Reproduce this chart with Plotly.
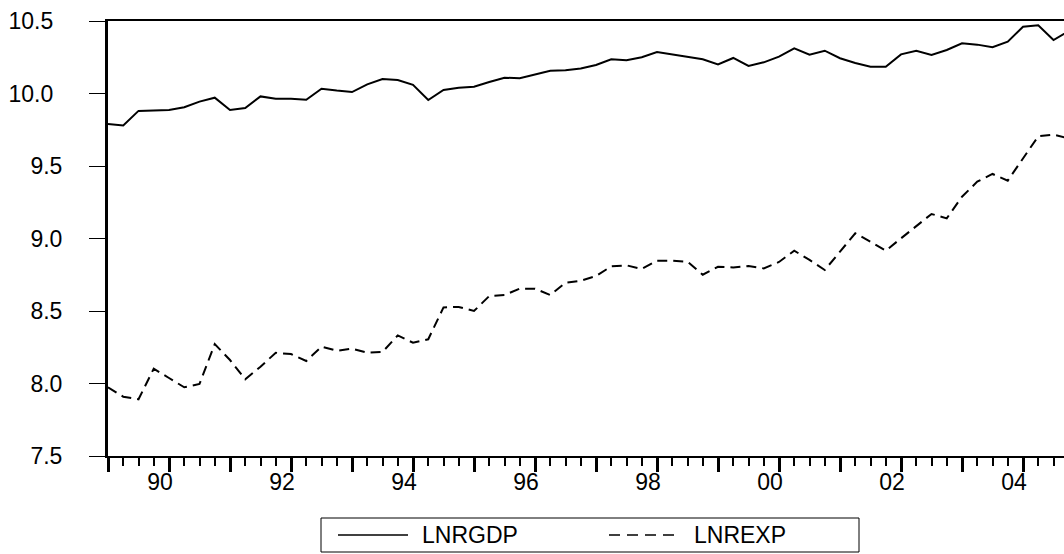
import pandas as pd
import plotly.graph_objects as go

# Quarterly sample, 1989Q1 - 2004Q4
quarters = pd.period_range("1989Q1", "2004Q4", freq="Q")

lnrgdp = [
    9.790, 9.780, 9.880, 9.886, 9.887, 9.905, 9.944, 9.971,
    9.886, 9.900, 9.980, 9.964, 9.964, 9.957, 10.033, 10.020,
    10.010, 10.063, 10.100, 10.093, 10.060, 9.955, 10.024, 10.040,
    10.047, 10.079, 10.109, 10.105, 10.132, 10.157, 10.160, 10.173,
    10.197, 10.236, 10.229, 10.250, 10.286, 10.270, 10.254, 10.236,
    10.200, 10.245, 10.190, 10.215, 10.254, 10.312, 10.268, 10.295,
    10.243, 10.210, 10.185, 10.185, 10.270, 10.295, 10.266, 10.300,
    10.346, 10.337, 10.319, 10.357, 10.460, 10.470, 10.369, 10.430,
]

lnrexp = [
    7.974, 7.909, 7.891, 8.102, 8.038, 7.974, 7.997, 8.272,
    8.162, 8.029, 8.116, 8.212, 8.203, 8.155, 8.254, 8.226,
    8.240, 8.212, 8.217, 8.332, 8.281, 8.305, 8.525, 8.528,
    8.500, 8.603, 8.610, 8.654, 8.654, 8.610, 8.695, 8.709,
    8.741, 8.808, 8.815, 8.790, 8.847, 8.847, 8.840, 8.750,
    8.805, 8.800, 8.810, 8.794, 8.838, 8.916, 8.852, 8.783,
    8.909, 9.036, 8.978, 8.916, 9.001, 9.086, 9.169, 9.139,
    9.288, 9.392, 9.445, 9.399, 9.555, 9.705, 9.716, 9.690,
]

series_names = ["LNRGDP", "LNREXP"]
y_ticks = [7.5, 8.0, 8.5, 9.0, 9.5, 10.0, 10.5]
year_ticks = list(range(1989, 2005))
year_labels = ["" if (y % 2) else f"{y % 100:02d}" for y in year_ticks]

# decimal year position of each quarter
x = [q.year + (q.quarter - 1) / 4 for q in quarters]

FONT = "Liberation Sans, Arial, sans-serif"
FS = 23
DASH = "10px,6px"

W, H = 1064, 554
ml, mr, mt, mb = 108, 0, 21, 98
plot_w, plot_h = W - ml - mr, H - mt - mb
px_per_year = 61.0


def px_x(p):
    """page pixel column -> paper x"""
    return (p - ml) / plot_w


def px_y(p):
    """page pixel row -> paper y"""
    return (H - mb - p) / plot_h


fig = go.Figure()
fig.add_trace(go.Scatter(x=x, y=lnrgdp, mode="lines", name=series_names[0],
                         line=dict(color="black", width=2), showlegend=False))
fig.add_trace(go.Scatter(x=x, y=lnrexp, mode="lines", name=series_names[1],
                         line=dict(color="black", width=2, dash=DASH),
                         showlegend=False))

# boxed key below the axis
key_top, key_bot = 518, 552
key_mid = (key_top + key_bot) / 2
shapes = [
    dict(type="rect", xref="paper", yref="paper",
         x0=px_x(321), x1=px_x(859), y0=px_y(key_bot), y1=px_y(key_top),
         line=dict(color="black", width=1), fillcolor="white"),
    dict(type="line", xref="paper", yref="paper",
         x0=px_x(338), x1=px_x(408), y0=px_y(key_mid), y1=px_y(key_mid),
         line=dict(color="black", width=1.5)),
    dict(type="line", xref="paper", yref="paper",
         x0=px_x(609), x1=px_x(674), y0=px_y(key_mid), y1=px_y(key_mid),
         line=dict(color="black", width=1.5, dash="11px,7px")),
]
annotations = [
    dict(text=series_names[0], xref="paper", yref="paper",
         x=px_x(420), y=px_y(key_mid), xanchor="left", yanchor="middle",
         showarrow=False, font=dict(family=FONT, size=FS, color="black")),
    dict(text=series_names[1], xref="paper", yref="paper",
         x=px_x(692), y=px_y(key_mid), xanchor="left", yanchor="middle",
         showarrow=False, font=dict(family=FONT, size=FS, color="black")),
]

fig.update_layout(
    width=W, height=H,
    margin=dict(l=ml, r=mr, t=mt, b=mb, pad=0),
    paper_bgcolor="white", plot_bgcolor="white",
    font=dict(family=FONT, size=FS, color="black"),
    showlegend=False,
    shapes=shapes,
    annotations=annotations,
)

fig.update_xaxes(
    range=[1989, 1989 + plot_w / px_per_year],
    tickmode="array", tickvals=year_ticks, ticktext=year_labels,
    ticks="outside", ticklen=14, tickwidth=2.5, tickcolor="black",
    ticklabelshift=-9, ticklabelstandoff=-10,
    minor=dict(dtick=0.25, tick0=1989, ticks="outside", ticklen=8,
               tickwidth=2, tickcolor="black", showgrid=False),
    showline=True, linewidth=2, linecolor="black", mirror=True,
    showgrid=False, zeroline=False,
)

fig.update_yaxes(
    range=[7.5, 10.5],
    tickmode="array", tickvals=y_ticks,
    ticktext=[f"{v:.1f}" + ("\u2009\u2009" if v >= 10 else "") for v in y_ticks],
    ticks="outside", ticklen=16, tickwidth=1, tickcolor="black",
    ticklabelstandoff=22,
    showline=True, linewidth=3, linecolor="black",
    showgrid=False, zeroline=False,
)

fig.write_html("out.html")
